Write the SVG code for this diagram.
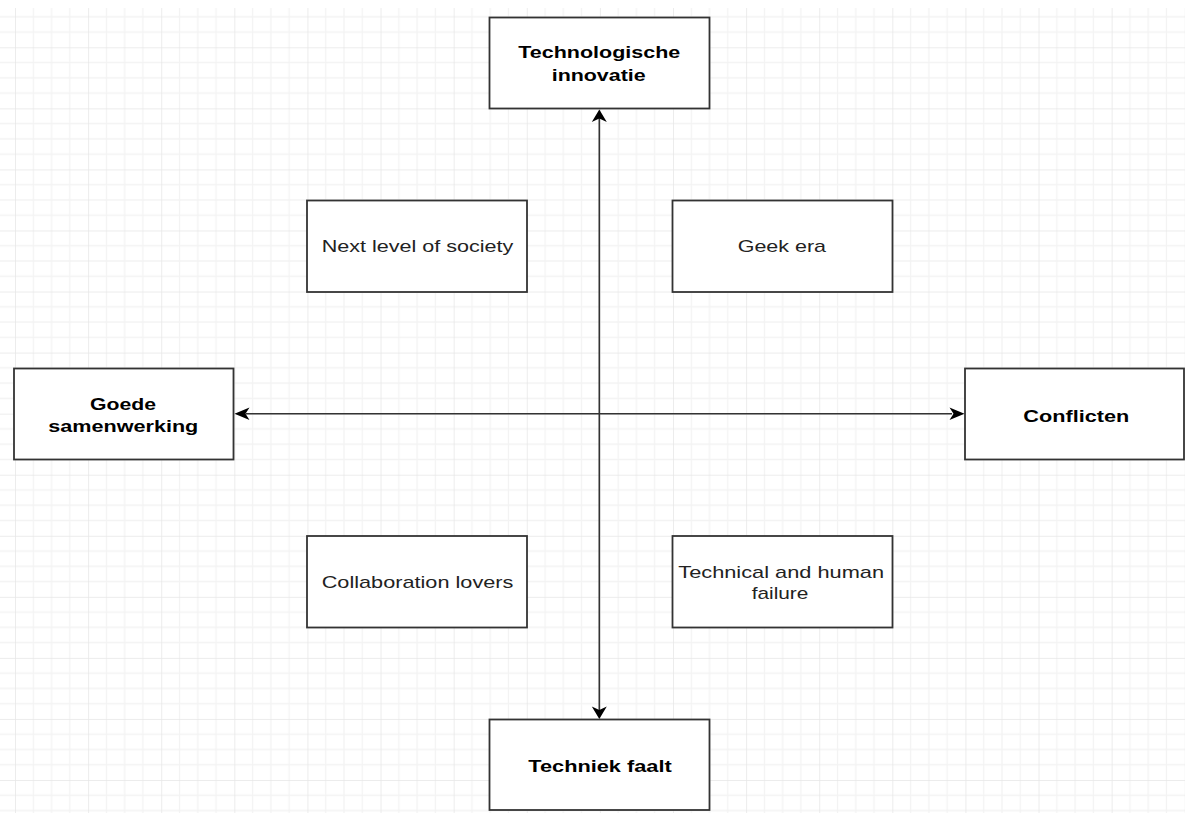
<svg xmlns="http://www.w3.org/2000/svg" width="1185" height="814" viewBox="0 0 1185 814">
  <defs>
    <pattern id="grid" patternUnits="userSpaceOnUse" x="15" y="47.3" width="73.11" height="61.06">
      <g stroke="#f3f3f3" stroke-width="1.3">
        <line x1="18.28" y1="0" x2="18.28" y2="61.06"/>
        <line x1="36.56" y1="0" x2="36.56" y2="61.06"/>
        <line x1="54.83" y1="0" x2="54.83" y2="61.06"/>
        <line x1="0" y1="15.265" x2="73.11" y2="15.265"/>
        <line x1="0" y1="30.53" x2="73.11" y2="30.53"/>
        <line x1="0" y1="45.8" x2="73.11" y2="45.8"/>
      </g>
      <g stroke="#e6e6e6" stroke-width="1.5">
        <line x1="0" y1="0" x2="0" y2="61.06"/>
        <line x1="0" y1="0" x2="73.11" y2="0"/>
      </g>
    </pattern>
    <style>
      .box { fill: #ffffff; stroke: #333333; stroke-width: 1.8; }
      .line { stroke: #333333; stroke-width: 1.6; fill: none; }
      .head { fill: #000000; stroke: none; }
      .bold { font-family: "Liberation Sans", Arial, sans-serif; font-weight: bold; font-size: 17px; fill: #000000; }
      .reg { font-family: "Liberation Sans", Arial, sans-serif; font-size: 17px; fill: #222222; }
    </style>
  </defs>

  <rect x="0" y="0" width="1185" height="814" fill="#ffffff"/>
  <rect x="0" y="8" width="1185" height="805" fill="url(#grid)"/>

  <g id="connectors">
    <line class="line" x1="599.3" y1="118" x2="599.3" y2="710"/>
    <line class="line" x1="246" y1="413.7" x2="952" y2="413.7"/>
    <path class="head" d="M599.3,109.5 L606.8,122 L599.3,118.5 L591.8,122 Z"/>
    <path class="head" d="M599.3,719 L606.8,706.5 L599.3,710 L591.8,706.5 Z"/>
    <path class="head" d="M234.5,413.7 L249.5,407.5 L245.5,413.7 L249.5,419.9 Z"/>
    <path class="head" d="M964.5,413.7 L949.5,407.5 L953.5,413.7 L949.5,419.9 Z"/>
  </g>

  <g id="node-technologische-innovatie">
    <rect class="box" x="489.5" y="17.5" width="220" height="91"/>
    <text class="bold" x="518.3" y="58.3" textLength="162" lengthAdjust="spacingAndGlyphs">Technologische</text>
    <text class="bold" x="551.7" y="80.7" textLength="94" lengthAdjust="spacingAndGlyphs">innovatie</text>
  </g>

  <g id="node-goede-samenwerking">
    <rect class="box" x="14" y="368.5" width="219.5" height="91"/>
    <text class="bold" x="90" y="410" textLength="66" lengthAdjust="spacingAndGlyphs">Goede</text>
    <text class="bold" x="48.3" y="431.7" textLength="150" lengthAdjust="spacingAndGlyphs">samenwerking</text>
  </g>

  <g id="node-conflicten">
    <rect class="box" x="965" y="368.5" width="219" height="91"/>
    <text class="bold" x="1023.3" y="421.7" textLength="106" lengthAdjust="spacingAndGlyphs">Conflicten</text>
  </g>

  <g id="node-techniek-faalt">
    <rect class="box" x="489.5" y="719.5" width="220" height="90.5"/>
    <text class="bold" x="528.3" y="771.7" textLength="143.4" lengthAdjust="spacingAndGlyphs">Techniek faalt</text>
  </g>

  <g id="node-next-level">
    <rect class="box" x="307" y="200.5" width="220" height="91.5"/>
    <text class="reg" x="321.7" y="252.3" textLength="191.7" lengthAdjust="spacingAndGlyphs">Next level of society</text>
  </g>

  <g id="node-geek-era">
    <rect class="box" x="672.5" y="200.5" width="220" height="91.5"/>
    <text class="reg" x="737.7" y="252.3" textLength="88.3" lengthAdjust="spacingAndGlyphs">Geek era</text>
  </g>

  <g id="node-collaboration-lovers">
    <rect class="box" x="307" y="536" width="220" height="91.5"/>
    <text class="reg" x="321.7" y="588.3" textLength="191.7" lengthAdjust="spacingAndGlyphs">Collaboration lovers</text>
  </g>

  <g id="node-technical-human-failure">
    <rect class="box" x="672.5" y="536" width="220" height="91.5"/>
    <text class="reg" x="678.3" y="578.3" textLength="205.7" lengthAdjust="spacingAndGlyphs">Technical and human</text>
    <text class="reg" x="751.7" y="599" textLength="56.7" lengthAdjust="spacingAndGlyphs">failure</text>
  </g>
</svg>
